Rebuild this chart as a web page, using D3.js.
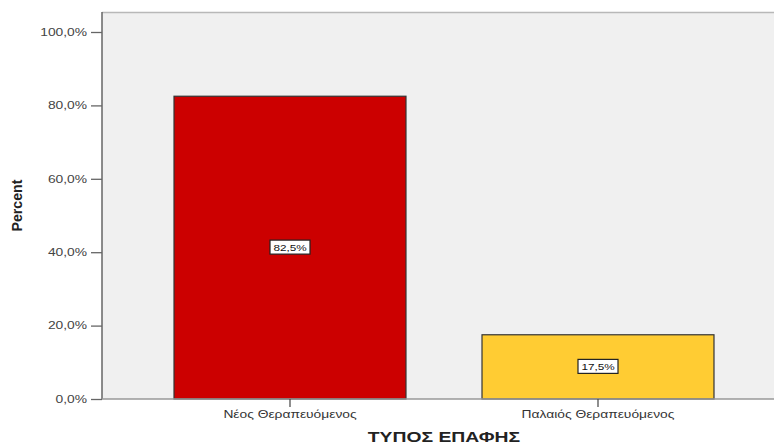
<!DOCTYPE html>
<html><head><meta charset="utf-8">
<script src="https://cdn.jsdelivr.net/npm/d3@7"></script>
<style>body{margin:0;background:#fff;}svg{display:block;font-family:"Liberation Sans",Arial,sans-serif;}</style>
</head><body>
<svg id="c" width="774" height="446"></svg>
<script>
const categories = ["Νέος Θεραπευόμενος", "Παλαιός Θεραπευόμενος"];
const percents = [82.5, 17.5];
const barColors = ["#CC0000", "#FFCC33"];
const yTicks = [0, 20, 40, 60, 80, 100];
const xTitle = "ΤΥΠΟΣ ΕΠΑΦΗΣ";
const yTitle = "Percent";

const SX = 1.38; // horizontal stretch seen in the reference
const svg = d3.select("#c");
const pLeft = 102, pTop = 12, pBottom = 399, rightRange = 786;
const loc = d3.formatLocale({decimal: ",", thousands: ".", grouping: [3], currency: ["", "€"]});
const fmt = v => loc.format(".1f")(v) + "%";

const x = d3.scaleBand().domain(categories).range([pLeft, rightRange]).paddingInner(0.2468).paddingOuter(0.2338);
const y = d3.scaleLinear().domain([0, 100]).range([pBottom, 32]);

function stretch(sel) {
  sel.each(function() {
    const w = this.getComputedTextLength();
    d3.select(this).attr("textLength", w * SX).attr("lengthAdjust", "spacingAndGlyphs");
  });
}

// plot background
svg.append("rect").attr("x", pLeft).attr("y", pTop).attr("width", 774 - pLeft).attr("height", pBottom - pTop).attr("fill", "#F0F0F0");
svg.append("line").attr("x1", pLeft).attr("x2", 774).attr("y1", pTop + 0.5).attr("y2", pTop + 0.5).attr("stroke", "#B8B8B8").attr("stroke-width", 1.5);

// bars
svg.selectAll(".bar").data(categories).join("rect")
  .attr("class", "bar")
  .attr("x", d => x(d)).attr("width", x.bandwidth())
  .attr("y", (d, i) => y(percents[i])).attr("height", (d, i) => pBottom - y(percents[i]))
  .attr("fill", (d, i) => barColors[i]).attr("stroke", "#333").attr("stroke-width", 1.2);

// y axis
const yAxis = svg.append("g").attr("transform", `translate(${pLeft},0)`)
  .call(d3.axisLeft(y).tickValues(yTicks).tickFormat(fmt).tickSize(11).tickPadding(4));
yAxis.select(".domain").attr("d", `M0,${pTop}V${pBottom}`).attr("stroke", "#666").attr("stroke-width", 1.5);
yAxis.selectAll(".tick line").attr("stroke", "#666").attr("stroke-width", 1.3);
yAxis.selectAll(".tick text").attr("font-size", 10).attr("fill", "#444").attr("font-family", "Liberation Sans, Arial").call(stretch);

// x axis
const xAxis = svg.append("g").attr("transform", `translate(0,${pBottom})`)
  .call(d3.axisBottom(x).tickSize(8).tickPadding(4));
xAxis.select(".domain").attr("d", `M${pLeft},0H774`).attr("stroke", "#999").attr("stroke-width", 1.3);
xAxis.selectAll(".tick line").attr("stroke", "#444").attr("stroke-width", 1.2);
xAxis.selectAll(".tick text").attr("font-size", 10).attr("fill", "#333").attr("font-family", "Liberation Sans, Arial").call(stretch);

// axis titles
svg.append("text").attr("x", (pLeft + rightRange) / 2).attr("y", 442).attr("text-anchor", "middle")
  .attr("font-size", 14).attr("font-weight", "bold").attr("fill", "#222").text(xTitle).call(stretch);
svg.append("text").attr("transform", `translate(22,${(pTop + pBottom) / 2}) rotate(-90)`).attr("text-anchor", "middle")
  .attr("font-size", 14).attr("font-weight", "bold").attr("fill", "#222").text(yTitle)
  .each(function(){ d3.select(this).attr("textLength", 52).attr("lengthAdjust", "spacingAndGlyphs"); });

// value labels
const lab = svg.selectAll(".lab").data(categories).join("g").attr("class", "lab")
  .attr("transform", (d, i) => `translate(${x(d) + x.bandwidth() / 2},${(y(percents[i]) + pBottom) / 2})`);
lab.append("rect").attr("x", -20).attr("y", -7.5).attr("width", 40).attr("height", 14)
  .attr("fill", "#fff").attr("stroke", "#222").attr("stroke-width", 1.2);
lab.append("text").attr("y", 3).attr("text-anchor", "middle").attr("font-size", 8.5).attr("fill", "#111")
  .text((d, i) => fmt(percents[i])).call(stretch);
</script>
</body></html>
